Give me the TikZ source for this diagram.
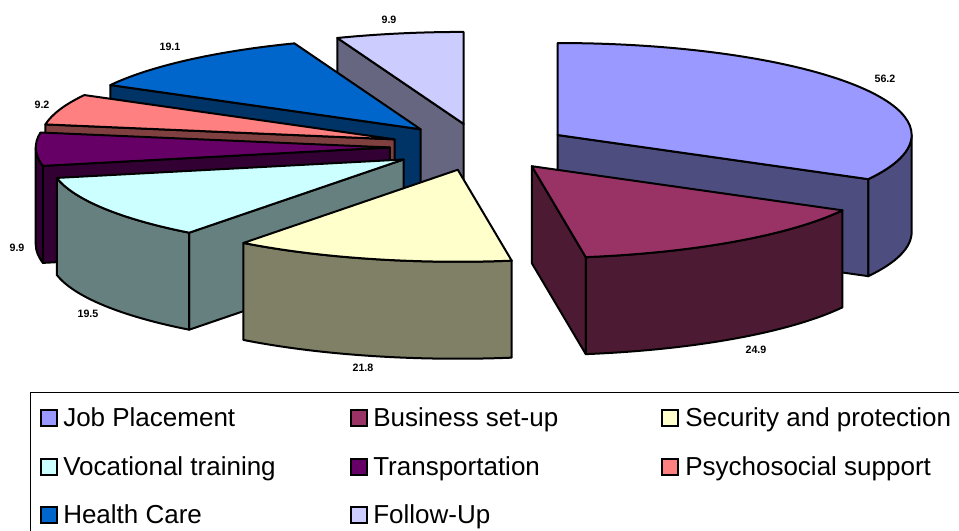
\documentclass[tikz,border=0pt]{standalone}
\usepackage{fontspec}
\setmainfont{Liberation Sans}
\definecolor{jobT}{RGB}{153,153,255}\definecolor{jobS}{RGB}{77,77,128}
\definecolor{busT}{RGB}{153,51,102}\definecolor{busS}{RGB}{77,26,51}
\definecolor{secT}{RGB}{255,255,204}\definecolor{secS}{RGB}{128,128,102}
\definecolor{vocT}{RGB}{204,255,255}\definecolor{vocS}{RGB}{102,128,128}
\definecolor{traT}{RGB}{102,0,102}\definecolor{traS}{RGB}{51,0,51}
\definecolor{psyT}{RGB}{255,128,128}\definecolor{psyS}{RGB}{128,64,64}
\definecolor{heaT}{RGB}{0,102,204}\definecolor{heaS}{RGB}{0,51,102}
\definecolor{folT}{RGB}{204,204,255}\definecolor{folS}{RGB}{102,102,128}
\newcommand\pcenter[2]{%
  \pgfmathsetmacro\pcx{480+0.255*354*cos((#1+#2)/2)}%
  \pgfmathsetmacro\pcy{-147+0.255*92*sin((#1+#2)/2)}}
\newcommand\ptop[3]{%
  \pcenter{#1}{#2}%
  \draw[face,fill=#3] (\pcx,\pcy) -- ++(#1:354 and 92) arc[start angle=#1,end angle=#2,x radius=354,y radius=92] -- cycle;}
\newcommand\pwall[4]{%
  \pcenter{#1}{#2}%
  \draw[face,fill=#4] (\pcx,\pcy) -- ++(#3:354 and 92) -- ++(0,-97) -- (\pcx,{\pcy-97}) -- cycle;}
\newcommand\pcurve[5]{%
  \pcenter{#1}{#2}%
  \draw[face,fill=#5] (\pcx,\pcy) ++(#3:354 and 92) arc[start angle=#3,end angle=#4,x radius=354,y radius=92] -- ++(0,-97) arc[start angle=#4,end angle=#3,x radius=354,y radius=92] -- cycle;}
\begin{document}
\begin{tikzpicture}[x=0.75pt,y=0.75pt,
  face/.style={draw=black,line width=1.5pt,line join=round},
  val/.style={font=\bfseries\fontsize{8}{8}\selectfont,inner sep=0pt},
  keybox/.style={draw=black,line width=1.1pt,minimum size=12pt,inner sep=0pt},
  keytext/.style={anchor=base west,inner sep=0pt,font=\fontsize{19.5}{20}\selectfont}]
\useasboundingbox (0,0) rectangle (959,-531);
\clip (0,0) rectangle (959,-531);
% Follow-Up
\pwall{-249.097}{-270}{-249.097}{folS}
\ptop{-249.097}{-270}{folT}
% Health Care
\pwall{-208.768}{-249.097}{-208.768}{heaS}
\ptop{-208.768}{-249.097}{heaT}
% Psychosocial support
\pwall{-189.343}{-208.768}{-189.343}{psyS}
\ptop{-189.343}{-208.768}{psyT}
% Transportation
\pwall{-168.44}{-189.343}{-168.44}{traS}
\pcurve{-168.44}{-189.343}{-168.44}{-180}{traS}
\ptop{-168.44}{-189.343}{traT}
% Vocational training
\pwall{-127.267}{-168.44}{-127.267}{vocS}
\pcurve{-127.267}{-168.44}{-127.267}{-168.44}{vocS}
\ptop{-127.267}{-168.44}{vocT}
% Job Placement
\pwall{90}{-28.663}{-28.663}{jobS}
\pcurve{90}{-28.663}{0}{-28.663}{jobS}
\ptop{90}{-28.663}{jobT}
% Business set-up
\pwall{-28.663}{-81.238}{-81.238}{busS}
\pcurve{-28.663}{-81.238}{-28.663}{-81.238}{busS}
\ptop{-28.663}{-81.238}{busT}
% Security and protection
\pcurve{-81.238}{-127.267}{-81.238}{-127.267}{secS}
\ptop{-81.238}{-127.267}{secT}
% value labels
\node[val] (v1) at (885,-79) {56.2};
\node[val] (v2) at (756,-350) {24.9};
\node[val] (v3) at (363,-368) {21.8};
\node[val] (v4) at (88,-314) {19.5};
\node[val] (v5) at (17,-248) {9.9};
\node[val] (v6) at (42,-105) {9.2};
\node[val] (v7) at (170,-47) {19.1};
\node[val] (v8) at (389,-20) {9.9};
% legend
\draw[line width=0.75pt] (30,-392) rectangle (975,-545);
\node[keybox,fill=jobT] (k1) at (49,-418) {};
\node[keytext] (t1) at (63,-426.5) {Job Placement};
\node[keybox,fill=busT] (k2) at (359,-418) {};
\node[keytext] (t2) at (373,-426.5) {Business set-up};
\node[keybox,fill=secT] (k3) at (670,-418) {};
\node[keytext] (t3) at (685,-426.5) {Security and protection};
\node[keybox,fill=vocT] (k4) at (49,-467) {};
\node[keytext] (t4) at (63,-475.5) {Vocational training};
\node[keybox,fill=traT] (k5) at (359,-467) {};
\node[keytext] (t5) at (373,-475.5) {Transportation};
\node[keybox,fill=psyT] (k6) at (670,-467) {};
\node[keytext] (t6) at (685,-475.5) {Psychosocial support};
\node[keybox,fill=heaT] (k7) at (49,-515) {};
\node[keytext] (t7) at (63,-523.5) {Health Care};
\node[keybox,fill=folT] (k8) at (359,-515) {};
\node[keytext] (t8) at (373,-523.5) {Follow-Up};
\end{tikzpicture}
\end{document}
